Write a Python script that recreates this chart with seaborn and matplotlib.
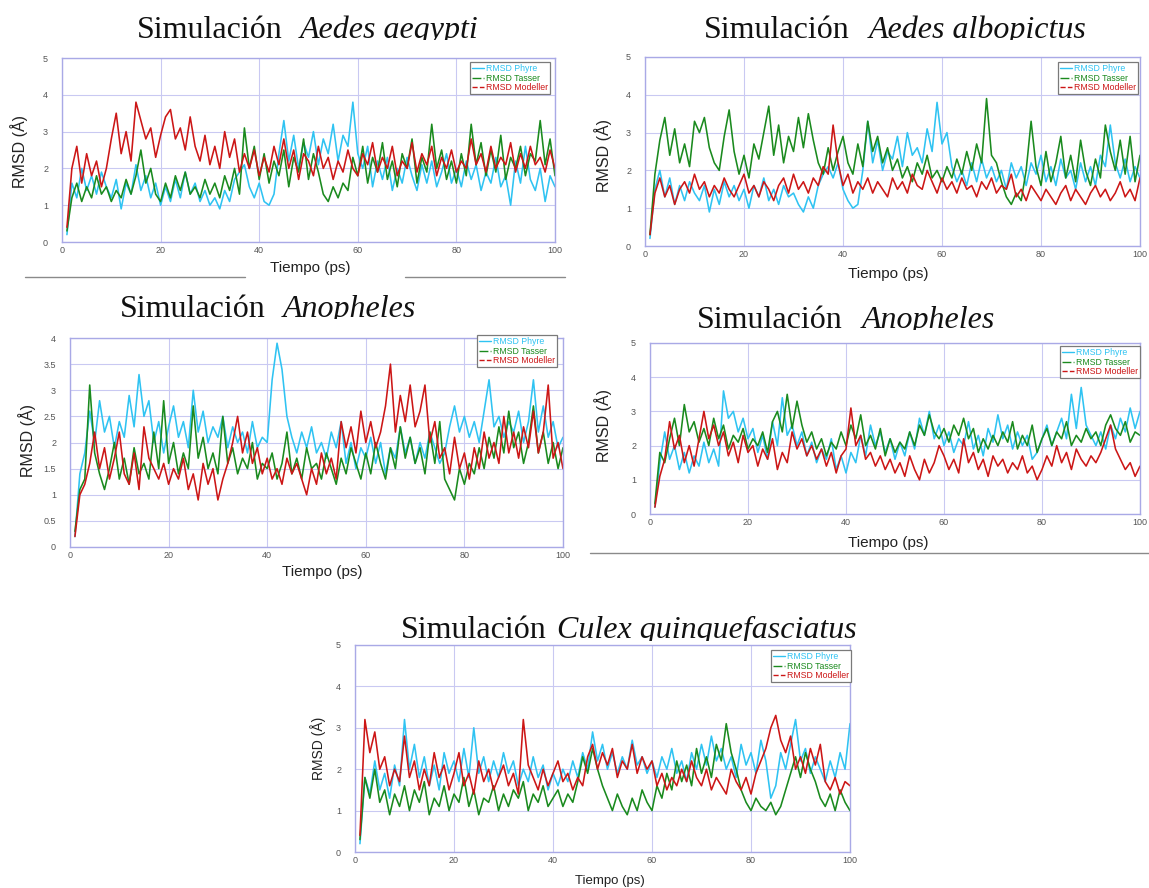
import numpy as np
import pandas as pd
import matplotlib
matplotlib.use("Agg")
import matplotlib.pyplot as plt
import seaborn as sns
from matplotlib.lines import Line2D
from matplotlib.transforms import Bbox, TransformedBbox

# ---------------- data (RMSD in Å, one value per ps, t = 1..100) ----------------
time_ps = list(range(1, 101))
series_names = ["RMSD Phyre", "RMSD Tasser", "RMSD Modeller"]

aegypti_phyre = [0.2, 1.6, 1.2, 2.0, 1.4, 1.8, 1.3, 1.9, 1.5, 1.2,
                 1.7, 0.9, 1.6, 1.3, 2.1, 1.4, 1.8, 1.2, 1.6, 1.0,
                 1.5, 1.1, 1.7, 1.2, 1.9, 1.3, 1.6, 1.1, 1.4, 1.0,
                 1.2, 0.9, 1.4, 1.1, 1.7, 1.9, 2.1, 1.5, 1.2, 1.6,
                 1.1, 1.0, 1.3, 2.4, 3.3, 2.2, 2.9, 2.0, 2.7, 2.3,
                 3.0, 2.1, 2.8, 2.4, 3.2, 2.2, 2.9, 2.6, 3.8, 2.4,
                 2.0, 2.6, 1.5, 2.2, 1.7, 2.3, 1.4, 2.0, 1.6, 2.3,
                 1.8, 1.4, 2.1, 1.6, 2.2, 1.5, 1.9, 2.4, 1.6, 2.0,
                 1.5, 2.2, 1.7, 2.1, 1.4, 1.9, 1.6, 2.3, 1.5, 1.8,
                 1.0, 2.2, 1.6, 2.6, 1.7, 1.4, 2.0, 1.1, 1.8, 1.5]
aegypti_tasser = [0.3, 1.2, 1.6, 1.1, 1.5, 1.2, 1.8, 1.3, 1.5, 1.1,
                  1.4, 1.2, 1.7, 1.3, 1.8, 2.5, 1.6, 2.0, 1.3, 1.1,
                  1.6, 1.2, 1.8, 1.4, 1.9, 1.3, 1.5, 1.2, 1.7, 1.3,
                  1.6, 1.2, 1.8, 1.4, 2.0, 1.3, 3.1, 2.0, 2.6, 1.7,
                  2.4, 1.6, 2.2, 1.8, 2.5, 1.5, 2.3, 1.9, 2.8, 1.7,
                  2.4, 1.9, 1.3, 1.1, 1.5, 1.2, 1.6, 1.4, 2.3, 1.8,
                  2.6, 1.6, 2.3, 1.9, 2.7, 1.7, 2.2, 1.5, 2.4, 2.0,
                  2.8, 1.6, 2.3, 1.9, 3.2, 2.0, 2.5, 1.7, 2.2, 1.6,
                  2.4, 1.8, 3.2, 2.1, 2.7, 1.8, 2.5, 1.9, 2.9, 1.7,
                  2.3, 2.0, 2.6, 1.8, 2.4, 2.2, 3.3, 2.1, 2.8, 1.8]
aegypti_modeller = [0.4, 2.0, 2.6, 1.6, 2.4, 1.8, 2.2, 1.5, 2.0, 2.8,
                    3.5, 2.4, 3.0, 2.2, 3.8, 3.3, 2.8, 3.1, 2.3, 2.9,
                    3.4, 3.6, 2.8, 3.1, 2.5, 3.4, 2.6, 2.2, 2.9, 2.1,
                    2.6, 2.0, 3.0, 2.3, 2.8, 1.9, 2.4, 2.0, 2.5, 1.8,
                    2.3, 1.9, 2.6, 2.1, 2.8, 2.0, 2.5, 1.7, 2.4, 2.2,
                    1.8, 2.6, 2.0, 2.3, 1.7, 2.2, 1.9, 2.5, 2.0, 1.8,
                    2.4, 2.1, 2.7, 1.9, 2.3, 2.0, 2.6, 1.8, 2.2, 2.0,
                    2.7, 1.9, 2.4, 2.1, 2.6, 1.8, 2.3, 2.0, 2.5, 1.9,
                    2.2, 2.0, 2.8, 2.1, 2.4, 1.9, 2.6, 2.0, 2.3, 2.1,
                    2.7, 1.9, 2.4, 2.0, 2.6, 2.1, 2.3, 1.9, 2.5, 2.0]

albopictus_phyre = [0.2, 1.5, 2.0, 1.3, 1.8, 1.1, 1.6, 1.2, 1.7, 1.4,
                    1.2, 1.6, 0.9, 1.5, 1.1, 1.7, 1.3, 1.6, 1.2, 1.5,
                    1.0, 1.6, 1.3, 1.8, 1.2, 1.5, 1.1, 1.6, 1.3, 1.4,
                    1.1, 0.9, 1.3, 1.0, 1.6, 1.9, 2.1, 1.8, 2.2, 1.5,
                    1.2, 1.0, 1.1, 2.0, 3.3, 2.2, 2.8, 2.0, 2.5, 2.3,
                    2.9, 2.1, 3.0, 2.4, 2.6, 2.2, 3.1, 2.5, 3.8, 2.7,
                    3.0, 2.1, 1.7, 2.0, 1.6, 2.2, 1.7, 2.3, 1.8, 2.1,
                    1.7, 2.0, 1.5, 2.2, 1.8, 2.1, 1.6, 2.2, 1.9, 2.4,
                    1.7, 2.1, 1.6, 2.3, 1.8, 2.0, 1.5, 2.2, 1.7, 2.1,
                    1.6, 2.4, 2.1, 3.2, 2.2, 1.8, 2.3, 1.7, 2.1, 1.8]
albopictus_tasser = [0.3, 1.9, 2.8, 3.4, 2.4, 3.1, 2.2, 2.7, 2.1, 3.3,
                     3.0, 3.4, 2.6, 2.2, 2.0, 2.9, 3.6, 2.5, 1.9, 2.4,
                     1.8, 2.7, 2.3, 3.0, 3.7, 2.4, 3.2, 2.2, 2.9, 2.5,
                     3.4, 2.6, 3.5, 2.8, 2.2, 1.9, 2.6, 2.0, 2.5, 2.9,
                     2.2, 1.9, 2.7, 2.1, 3.3, 2.5, 2.9, 2.2, 2.6, 2.0,
                     2.3, 1.8, 2.1, 1.7, 2.2, 1.9, 2.4, 1.8, 2.0, 1.7,
                     2.1, 1.8, 2.3, 1.9, 2.5, 2.0, 2.7, 2.2, 3.9, 2.4,
                     2.2, 1.7, 1.3, 1.1, 1.4, 1.2, 2.0, 3.3, 2.1, 1.6,
                     2.5, 1.7, 2.2, 2.9, 1.8, 2.4, 1.7, 2.8, 2.0, 1.6,
                     2.3, 1.8, 3.2, 2.5, 2.0, 2.8, 1.9, 2.9, 1.7, 2.4]
albopictus_modeller = [0.3, 1.4, 1.8, 1.3, 1.6, 1.1, 1.5, 1.7, 1.4, 1.9,
                       1.5, 1.7, 1.3, 1.6, 1.4, 1.8, 1.5, 1.3, 1.6, 1.9,
                       1.4, 1.6, 1.3, 1.7, 1.5, 1.2, 1.6, 1.8, 1.4, 1.9,
                       1.5, 1.7, 1.4, 1.8, 1.6, 2.1, 1.9, 3.2, 2.2, 1.6,
                       1.9, 1.4, 1.7, 1.5, 1.8, 1.4, 1.7, 1.5, 1.3, 1.8,
                       1.5, 1.7, 1.4, 1.9, 1.6, 1.5, 2.0, 1.7, 1.4, 1.8,
                       1.5, 1.7, 1.4, 1.8, 1.5, 1.6, 1.3, 1.7, 1.5, 1.8,
                       1.4, 1.6, 1.5, 1.9, 1.3, 1.5, 1.2, 1.6, 1.4, 1.2,
                       1.5, 1.3, 1.1, 1.4, 1.6, 1.2, 1.5, 1.3, 1.1, 1.4,
                       1.6, 1.3, 1.5, 1.2, 1.4, 1.7, 1.3, 1.5, 1.2, 1.8]

anopheles1_phyre = [0.2, 1.4, 1.8, 2.6, 2.0, 2.8, 2.2, 2.5, 1.9, 2.4,
                    2.1, 2.9, 2.3, 3.3, 2.5, 2.8, 2.0, 2.4, 1.8, 2.3,
                    2.7, 2.1, 2.4, 1.9, 3.0, 2.2, 2.6, 2.0, 2.3, 2.1,
                    2.5, 1.9, 2.3, 2.0, 2.2, 1.8, 2.4, 1.9, 2.1, 2.0,
                    3.2, 3.9, 3.4, 2.5, 2.1, 1.8, 2.2, 1.9, 2.3, 1.8,
                    2.0, 1.7, 2.2, 1.9, 2.4, 1.6, 2.0, 1.5, 1.9, 1.7,
                    2.1, 1.6, 2.0, 1.4, 1.9, 1.7, 2.3, 1.8, 2.1, 1.6,
                    2.0, 1.7, 2.2, 1.9, 1.6, 1.8, 2.3, 2.7, 2.2, 2.5,
                    2.1, 2.4, 2.0, 2.6, 3.2, 2.3, 2.5, 2.1, 2.4, 2.2,
                    2.6, 2.0, 2.4, 3.2, 2.2, 2.7, 2.1, 2.4, 1.9, 2.1]
anopheles1_tasser = [0.3, 1.1, 1.3, 3.1, 1.8, 1.4, 1.1, 1.5, 2.0, 1.3,
                     1.7, 1.2, 1.9, 1.4, 1.6, 1.3, 2.2, 1.5, 2.8, 1.6,
                     2.0, 1.4, 1.8, 1.5, 2.7, 1.7, 2.1, 1.5, 1.8, 1.4,
                     2.5, 1.6, 1.9, 1.4, 1.7, 1.5, 2.0, 1.3, 1.6, 1.5,
                     1.8, 1.3, 1.6, 2.2, 1.4, 1.7, 1.3, 1.9, 1.5, 1.6,
                     1.3, 1.8, 1.5, 1.2, 1.7, 1.4, 1.9, 1.6, 1.3, 1.8,
                     1.4, 2.0, 1.6, 1.3, 1.9, 1.5, 2.3, 1.7, 2.1, 1.6,
                     1.9, 1.4, 2.2, 1.6, 2.4, 1.3, 1.1, 0.9, 1.5, 1.2,
                     1.6, 1.4, 1.9, 1.5, 2.1, 1.7, 2.3, 1.8, 2.6, 1.9,
                     2.2, 1.6, 2.0, 2.7, 1.8, 2.2, 1.6, 2.0, 1.5, 1.9]
anopheles1_modeller = [0.2, 1.0, 1.2, 1.6, 2.2, 1.5, 1.9, 1.3, 1.7, 2.2,
                       1.4, 1.2, 1.8, 1.1, 2.3, 1.7, 1.5, 1.3, 1.6, 1.2,
                       1.5, 1.3, 1.7, 1.1, 1.4, 0.9, 1.6, 1.2, 1.5, 0.9,
                       1.3, 1.6, 2.0, 2.5, 1.8, 2.2, 1.6, 1.9, 1.4, 1.7,
                       1.3, 1.5, 1.2, 1.7, 1.4, 1.6, 1.3, 1.0, 1.5, 1.2,
                       1.8, 1.4, 1.7, 1.3, 2.4, 1.9, 2.3, 1.8, 2.6, 2.0,
                       2.4, 1.9, 2.2, 2.7, 3.5, 2.2, 2.9, 2.4, 3.1, 2.3,
                       2.6, 3.1, 2.0, 2.4, 1.7, 1.9, 1.4, 2.1, 1.5, 1.8,
                       1.3, 1.9, 1.5, 2.2, 1.7, 2.0, 1.6, 2.5, 1.8, 2.2,
                       1.7, 2.3, 1.9, 2.6, 1.8, 2.2, 3.1, 1.7, 2.0, 1.5]

anopheles2_phyre = [0.2, 1.5, 2.4, 1.6, 2.0, 1.3, 1.8, 1.2, 1.7, 1.4,
                    2.1, 1.5, 1.9, 1.4, 3.6, 2.8, 3.0, 2.4, 2.8, 2.2,
                    2.5, 1.8, 2.3, 1.6, 2.7, 2.0, 3.4, 2.3, 2.6, 2.0,
                    2.4, 1.7, 2.1, 1.5, 1.9, 1.6, 2.2, 1.3, 1.7, 1.2,
                    1.8, 1.5, 2.3, 1.7, 2.6, 2.0, 2.4, 1.8, 2.2, 1.6,
                    2.1, 1.7, 2.4, 1.9, 2.8, 2.3, 3.0, 2.2, 2.6, 2.0,
                    2.4, 1.8, 2.2, 2.0, 2.7, 1.9, 2.3, 1.7, 2.5, 2.1,
                    2.9, 2.2, 2.6, 1.9, 2.4, 2.0, 2.3, 1.6, 1.8, 2.2,
                    2.6, 2.0, 2.4, 2.8, 2.2, 3.5, 2.5, 3.7, 2.6, 2.3,
                    2.0, 2.4, 1.9, 2.6, 2.2, 2.8, 2.4, 3.1, 2.5, 3.0]
anopheles2_tasser = [0.3, 1.8, 1.5, 2.2, 2.8, 2.0, 3.2, 2.4, 2.7, 2.1,
                     2.5, 2.0, 2.8, 2.2, 2.6, 1.9, 2.3, 2.1, 2.5, 1.9,
                     2.2, 2.0, 2.4, 1.8, 2.7, 3.0, 2.4, 3.5, 2.5, 3.3,
                     2.6, 2.1, 2.4, 1.9, 2.2, 1.7, 2.1, 1.9, 2.4, 2.0,
                     2.6, 2.2, 2.9, 2.0, 2.3, 1.9, 2.5, 1.7, 2.2, 1.8,
                     2.1, 1.9, 2.4, 2.0, 2.6, 2.3, 2.9, 2.4, 2.2, 2.5,
                     2.1, 2.6, 2.3, 2.8, 2.2, 2.5, 1.8, 2.2, 1.9, 2.3,
                     2.0, 2.4, 2.1, 2.7, 1.9, 2.3, 2.0, 2.6, 1.8, 2.2,
                     2.5, 2.0, 2.4, 2.2, 2.7, 2.0, 2.3, 2.1, 2.5, 2.2,
                     2.4, 2.0, 2.6, 2.9, 2.5, 2.3, 2.7, 2.1, 2.4, 2.3]
anopheles2_modeller = [0.2, 1.1, 1.6, 2.7, 1.9, 2.3, 1.5, 2.0, 1.4, 2.2,
                       3.0, 2.2, 2.6, 2.0, 2.4, 1.7, 2.1, 1.5, 2.3, 1.8,
                       2.0, 1.4, 1.9, 1.6, 2.2, 1.3, 1.8, 1.5, 2.4, 1.9,
                       2.2, 1.7, 2.0, 1.6, 1.9, 1.4, 1.8, 1.2, 1.7, 1.9,
                       3.1, 2.0, 2.3, 1.6, 1.8, 1.4, 1.7, 1.3, 1.6, 1.2,
                       1.5, 1.1, 1.7, 1.3, 1.0, 1.6, 1.2, 1.5, 2.0, 1.7,
                       1.3, 1.6, 1.2, 2.2, 1.5, 1.8, 1.3, 1.6, 1.1, 1.7,
                       1.4, 1.6, 1.2, 1.5, 1.3, 1.7, 1.2, 1.4, 1.0, 1.3,
                       1.7, 1.4, 2.0, 1.5, 1.8, 1.3, 1.9, 1.6, 1.4, 1.7,
                       1.5, 1.8, 2.2, 2.6, 1.9, 1.6, 1.3, 1.5, 1.1, 1.4]

culex_phyre = [0.2, 1.8, 1.4, 2.2, 1.5, 1.9, 1.3, 2.1, 1.6, 3.2,
               2.0, 2.6, 1.8, 2.3, 1.6, 2.1, 1.5, 2.4, 1.9, 2.2,
               1.7, 2.5, 1.8, 3.0, 1.9, 2.3, 1.7, 2.2, 1.8, 2.4,
               1.9, 2.2, 1.6, 2.0, 1.7, 2.3, 1.8, 2.1, 1.5, 1.9,
               1.6, 2.0, 1.7, 2.2, 1.8, 2.4, 2.0, 2.9, 2.2, 2.6,
               2.0, 2.4, 1.9, 2.3, 2.0, 2.7, 2.1, 2.3, 1.9, 2.2,
               1.8, 2.3, 2.0, 2.5, 1.9, 2.2, 1.7, 2.4, 2.0, 2.6,
               2.1, 2.8, 2.2, 2.5, 2.0, 2.3, 1.8, 2.6, 2.1, 2.4,
               1.9, 2.7, 2.2, 1.3, 1.6, 2.4, 2.0, 2.6, 3.2, 2.2,
               2.5, 1.9, 2.3, 2.0, 1.7, 2.2, 1.8, 2.4, 2.0, 3.1]
culex_tasser = [0.3, 1.8, 1.3, 2.0, 1.2, 1.5, 0.9, 1.4, 1.1, 1.6,
                1.0, 1.5, 1.2, 1.7, 0.9, 1.3, 1.1, 1.6, 1.0, 1.4,
                1.2, 1.8, 1.1, 1.5, 0.9, 1.3, 1.2, 1.6, 1.0, 1.4,
                1.1, 1.5, 1.3, 1.7, 1.0, 1.4, 1.2, 1.6, 1.1, 1.3,
                1.5, 1.1, 1.4, 1.2, 1.7, 2.3, 1.9, 2.5, 2.0, 1.6,
                1.3, 1.0, 1.4, 1.1, 0.9, 1.3, 1.0, 1.5, 1.2, 1.0,
                1.6, 1.3, 1.9, 1.5, 2.2, 1.7, 2.1, 1.6, 2.5, 1.9,
                2.3, 1.8, 2.6, 2.2, 3.1, 2.4, 2.0, 1.5, 1.2, 1.0,
                1.3, 1.1, 1.0, 1.2, 0.9, 1.1, 1.5, 1.9, 2.3, 1.8,
                2.4, 2.0, 1.7, 1.3, 1.1, 1.4, 1.0, 1.5, 1.2, 1.0]
culex_modeller = [0.4, 3.2, 2.4, 2.9, 2.0, 2.3, 1.6, 2.0, 1.7, 2.8,
                  1.8, 2.2, 1.5, 2.0, 1.6, 2.4, 1.8, 2.1, 1.5, 1.9,
                  2.4, 1.6, 1.9, 1.4, 2.2, 1.7, 2.0, 1.5, 1.8, 2.1,
                  1.6, 1.9, 1.4, 3.2, 2.1, 1.8, 1.5, 2.0, 1.6, 1.9,
                  2.2, 1.7, 1.9, 1.5, 1.8, 1.6, 2.3, 2.6, 2.0, 2.4,
                  2.1, 2.5, 1.8, 2.2, 2.0, 2.6, 1.9, 2.3, 2.0, 2.2,
                  1.6, 1.9, 1.5, 1.8, 1.6, 2.0, 1.7, 2.2, 1.8, 1.6,
                  2.0, 1.5, 1.8, 1.6, 1.4, 2.0, 1.7, 1.5, 1.8, 1.4,
                  1.9, 2.2, 2.5, 3.0, 3.3, 2.7, 2.4, 2.8, 2.0, 2.3,
                  1.9, 2.5, 2.1, 2.6, 1.7, 1.5, 1.8, 1.4, 1.7, 1.6]

x_ticks = [0, 20, 40, 60, 80, 100]
y_ticks_5 = [0, 1, 2, 3, 4, 5]
y_ticks_4 = [0, 0.5, 1, 1.5, 2, 2.5, 3, 3.5, 4]

# ---------------- style ----------------
sns.set_theme(style="white")
plt.rcParams["font.family"] = ["Liberation Sans", "DejaVu Sans"]

W, H = 1149, 888
fig = plt.figure(figsize=(W / 100, H / 100), dpi=100)
fig.patch.set_facecolor("white")

palette = {"RMSD Phyre": "#2fc3f2", "RMSD Tasser": "#1a8a1e", "RMSD Modeller": "#cc1616"}
legend_styles = {"RMSD Phyre": "-", "RMSD Tasser": "-.", "RMSD Modeller": "--"}
frame_col = "#a9a9e6"
grid_col = "#c9c9f2"

panels = [
    dict(box=(62, 555, 58, 242), ymax=5, yt=y_ticks_5,
         data=(aegypti_phyre, aegypti_tasser, aegypti_modeller),
         title=("Simulación", 137, "Aedes aegypti", 300, 38, 40),
         leg=(550, 62), xlab=(310, 268, 11), ylab=(19, 152, 11.5)),
    dict(box=(645, 1140, 57, 246), ymax=5, yt=y_ticks_5,
         data=(albopictus_phyre, albopictus_tasser, albopictus_modeller),
         title=("Simulación", 704, "Aedes albopictus", 869, 38, 40),
         leg=(1138, 62), xlab=(888, 274, 11), ylab=(603, 155, 11.5)),
    dict(box=(70, 563, 338, 547), ymax=4, yt=y_ticks_4,
         data=(anopheles1_phyre, anopheles1_tasser, anopheles1_modeller),
         title=("Simulación", 120, "Anopheles", 283, 317, 319),
         leg=(557, 335), xlab=(322, 572, 11), ylab=(27, 440, 11.5)),
    dict(box=(650, 1140, 343, 514), ymax=5, yt=y_ticks_5,
         data=(anopheles2_phyre, anopheles2_tasser, anopheles2_modeller),
         title=("Simulación", 697, "Anopheles", 862, 328, 330),
         leg=(1140, 346), xlab=(888, 543, 11), ylab=(603, 425, 11.5)),
    dict(box=(355, 850, 645, 852), ymax=5, yt=y_ticks_5,
         data=(culex_phyre, culex_tasser, culex_modeller),
         title=("Simulación", 401, "Culex quinquefasciatus", 557, 638, 641),
         leg=(851, 650), xlab=(610, 881, 9.5), ylab=(318, 748, 10)),
]

def fx(px):
    return px / W

def fy(py):
    return 1 - py / H

for p in panels:
    l, r, t, b = p["box"]
    ax = fig.add_axes([fx(l), fy(b), (r - l) / W, (b - t) / H])
    frames = []
    for name, vals in zip(series_names, p["data"]):
        frames.append(pd.DataFrame({"Tiempo": time_ps, "RMSD": vals, "Serie": name}))
    df = pd.concat(frames, ignore_index=True)
    sns.lineplot(data=df, x="Tiempo", y="RMSD", hue="Serie", hue_order=series_names,
                 palette=palette, linewidth=1.15, legend=False, ax=ax, sort=False)
    ax.set_xlim(0, 100)
    ax.set_ylim(0, p["ymax"])
    ax.set_xticks(x_ticks)
    ax.set_yticks(p["yt"])
    ax.set_yticklabels(["{:g}".format(v) for v in p["yt"]])
    ax.set_xlabel("")
    ax.set_ylabel("")
    ax.grid(True, color=grid_col, linewidth=0.8)
    ax.set_axisbelow(True)
    for s in ax.spines.values():
        s.set_color(frame_col)
        s.set_linewidth(1.0)
    ax.tick_params(axis="both", length=0, labelsize=6.5, labelcolor="#555555")
    ax.tick_params(axis="y", pad=10)
    ax.tick_params(axis="x", pad=3)

    # legend
    handles = [Line2D([0], [0], color=palette[n], linestyle=legend_styles[n], linewidth=1.0)
               for n in series_names]
    lx, ly = p["leg"]
    anchor = ((lx - l) / (r - l), (b - ly) / (b - t))
    leg = ax.legend(handles, series_names, loc="upper right", bbox_to_anchor=anchor,
                    fontsize=6.3, handlelength=1.4, handletextpad=0.2, borderpad=0.25,
                    labelspacing=0.05, borderaxespad=0, frameon=True, fancybox=False,
                    framealpha=1, edgecolor="#7a7a7a", labelcolor="linecolor")
    leg.get_frame().set_linewidth(0.9)

    # axis labels
    xlx, xly, xls = p["xlab"]
    fig.text(fx(xlx), fy(xly), "Tiempo (ps)", ha="center", va="center",
             fontsize=xls, color="#222222")
    ylx, yly, yls = p["ylab"]
    fig.text(fx(ylx), fy(yly), "RMSD (Å)", ha="center", va="center", rotation=90,
             fontsize=yls, color="#222222")

    # title (bottom clipped as in the source image)
    t1, x1, t2, x2, base, clip_y = p["title"]
    clip = TransformedBbox(Bbox([[0, fy(clip_y)], [1, 1]]), fig.transFigure)
    for txt, xx, style in ((t1, x1, "normal"), (t2, x2, "italic")):
        tt = fig.text(fx(xx), fy(base), txt, ha="left", va="baseline", fontsize=23,
                      family=["Liberation Serif", "DejaVu Serif"], style=style,
                      color="#111111", zorder=5)
        tt.set_clip_box(clip)
        tt.set_clip_on(True)

# decorative separator lines from the source document
for (x0, x1, yy) in ((25, 245, 277), (405, 565, 277), (590, 1149, 553)):
    fig.add_artist(Line2D([fx(x0), fx(x1)], [fy(yy), fy(yy)], color="#8a8a8a",
                          linewidth=1.0, transform=fig.transFigure))

fig.savefig("out.png", dpi=100, facecolor="white")
